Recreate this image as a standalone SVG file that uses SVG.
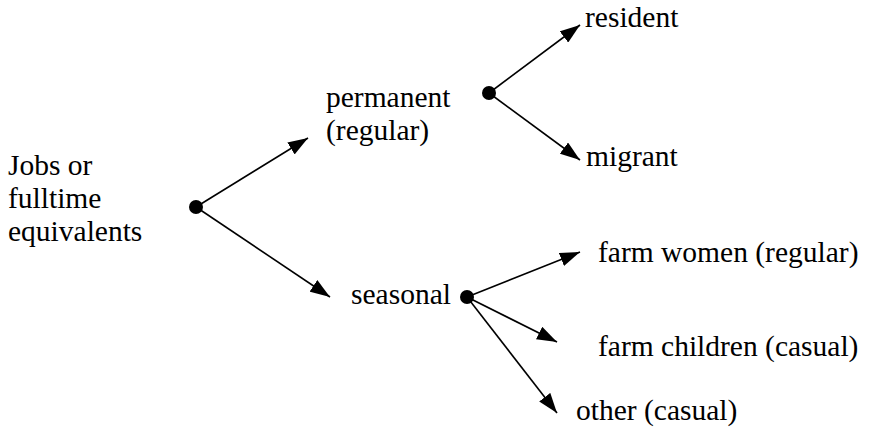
<svg xmlns="http://www.w3.org/2000/svg" width="869" height="428" viewBox="0 0 869 428">
<style>
.c{stroke:#000;stroke-width:1.6;fill:none}
.d{fill:#000}
</style>
<defs>
<marker id="ah" viewBox="0 0 20 14" refX="20" refY="7" markerWidth="20" markerHeight="14" markerUnits="userSpaceOnUse" orient="auto">
<path d="M0,0 L20,7 L0,14 Z" fill="#000"/>
</marker>
</defs>
<g id="connectors">
<line class="c" x1="196" y1="207" x2="308" y2="138" marker-end="url(#ah)"/>
<line class="c" x1="196" y1="207" x2="330" y2="297" marker-end="url(#ah)"/>
<line class="c" x1="489" y1="93" x2="580" y2="25" marker-end="url(#ah)"/>
<line class="c" x1="489" y1="93" x2="580" y2="160" marker-end="url(#ah)"/>
<line class="c" x1="467" y1="297" x2="580" y2="252" marker-end="url(#ah)"/>
<line class="c" x1="467" y1="297" x2="557" y2="342" marker-end="url(#ah)"/>
<line class="c" x1="467" y1="297" x2="557" y2="413" marker-end="url(#ah)"/>
</g>
<g font-family="Liberation Serif, DejaVu Serif, serif" font-size="29.5" fill="#000">
<g id="root">
<text x="8" y="175">Jobs or</text>
<text x="8" y="208">fulltime</text>
<text x="8" y="241">equivalents</text>
<circle class="d" cx="196" cy="207" r="7"/>
</g>
<g id="permanent">
<text x="326" y="107">permanent</text>
<text x="326" y="140">(regular)</text>
<circle class="d" cx="489" cy="93" r="7"/>
</g>
<g id="seasonal">
<text x="351" y="304">seasonal</text>
<circle class="d" cx="467" cy="297" r="7"/>
</g>
<g id="resident"><text x="585" y="27">resident</text></g>
<g id="migrant"><text x="586" y="166">migrant</text></g>
<g id="farm-women"><text x="598" y="262">farm women (regular)</text></g>
<g id="farm-children"><text x="598" y="356">farm children (casual)</text></g>
<g id="other"><text x="576" y="420">other (casual)</text></g>
</g>
</svg>
